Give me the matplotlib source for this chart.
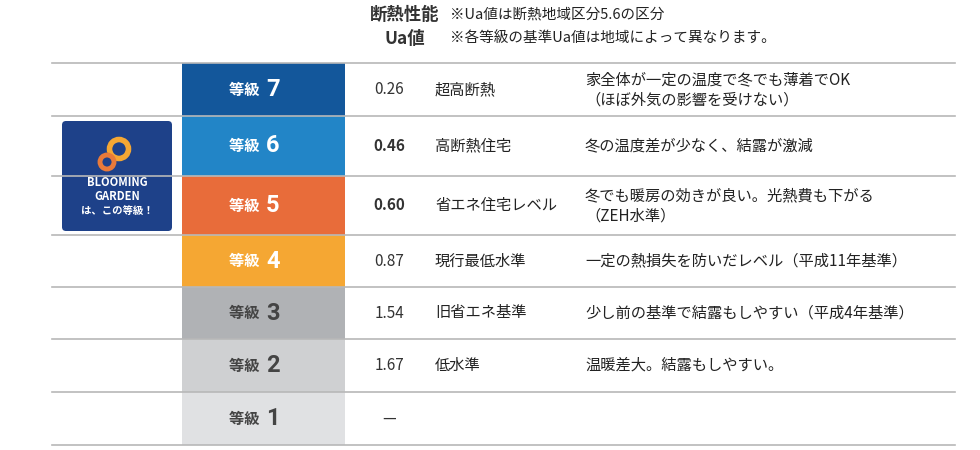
import matplotlib
matplotlib.use('Agg')
import matplotlib.pyplot as plt
from matplotlib.patches import FancyBboxPatch, Circle

plt.rcParams['font.family'] = ['Noto Sans CJK JP', 'DejaVu Sans']

grades = ['7', '6', '5', '4', '3', '2', '1']
ua_values = ['0.26', '0.46', '0.60', '0.87', '1.54', '1.67', '—']
names = ['超高断熱', '高断熱住宅', '省エネ住宅レベル', '現行最低水準', '旧省エネ基準', '低水準', '']
descs = ['家全体が一定の温度で冬でも薄着でOK\n（ほぼ外気の影響を受けない）',
         '冬の温度差が少なく、結露が激減',
         '冬でも暖房の効きが良い。光熱費も下がる\n（ZEH水準）',
         '一定の熱損失を防いだレベル（平成11年基準）',
         '少し前の基準で結露もしやすい（平成4年基準）',
         '温暖差大。結露もしやすい。',
         '']
colors = ['#13579b', '#2285c7', '#e86c3a', '#f5a733', '#b0b2b5', '#cfd0d2', '#e0e1e3']
text_colors = ['white'] * 4 + ['#444444'] * 3
bold = [False, True, True, False, False, False, False]

# row edges in pixel layout
edges = [63, 116, 176, 235, 287, 339, 392, 445]

fig = plt.figure(figsize=(9.8, 4.5), dpi=100)
ax = fig.add_axes([0, 0, 1, 1])
ax.set_xlim(0, 980)
ax.set_ylim(450, 0)
ax.axis('off')

tops = edges[:-1]
heights = [b - t for t, b in zip(edges[:-1], edges[1:])]
ax.bar([263.5] * 7, heights, bottom=tops, width=163, color=colors, align='center')

for e in edges:
    ax.plot([52, 955], [e, e], color='#b8b8b8', lw=1.2)

for i, g in enumerate(grades):
    yc = (edges[i] + edges[i + 1]) / 2
    ax.text(263, yc, '等級 ', color=text_colors[i], fontsize=11, fontweight='bold',
            ha='right', va='center')
    ax.text(266, yc, g, color=text_colors[i], fontsize=17, fontweight='bold',
            ha='left', va='center', family='Roboto')
    ax.text(389, yc, ua_values[i], color='#333333', fontsize=11,
            fontweight='bold' if bold[i] else 'normal', ha='center', va='center')
    ax.text(435, yc, names[i], color='#222222', fontsize=11, ha='left', va='center')
    ax.text(585, yc, descs[i], color='#222222', fontsize=11, ha='left', va='center',
            linespacing=1.25)

# header
ax.text(405, 15, '断熱性能', fontsize=12.5, fontweight='bold', color='#333333', ha='center', va='center')
ax.text(405, 39, 'Ua値', fontsize=12.5, fontweight='bold', color='#333333', ha='center', va='center')
ax.text(450, 15, '※Ua値は断熱地域区分5.6の区分', fontsize=10.5, color='#222222', ha='left', va='center')
ax.text(450, 39, '※各等級の基準Ua値は地域によって異なります。', fontsize=10.5, color='#222222', ha='left', va='center')

# logo
ax.add_patch(FancyBboxPatch((62, 121), 110, 110, boxstyle='round,pad=0,rounding_size=4',
                            fc='#1e4189', ec='none'))
ax.add_patch(Circle((119, 149), 9.5, fc='none', ec='#f5a733', lw=4))
ax.add_patch(Circle((107, 162), 7, fc='none', ec='#e87a3a', lw=3.5))
ax.text(117, 183, 'BLOOMING', color='white', fontsize=8, fontweight='bold', ha='center', va='center')
ax.text(117, 197, 'GARDEN', color='white', fontsize=8, fontweight='bold', ha='center', va='center')
ax.text(117, 211, 'は、この等級！', color='white', fontsize=7.5, fontweight='bold', ha='center', va='center')

fig.savefig('out.png', dpi=100)
